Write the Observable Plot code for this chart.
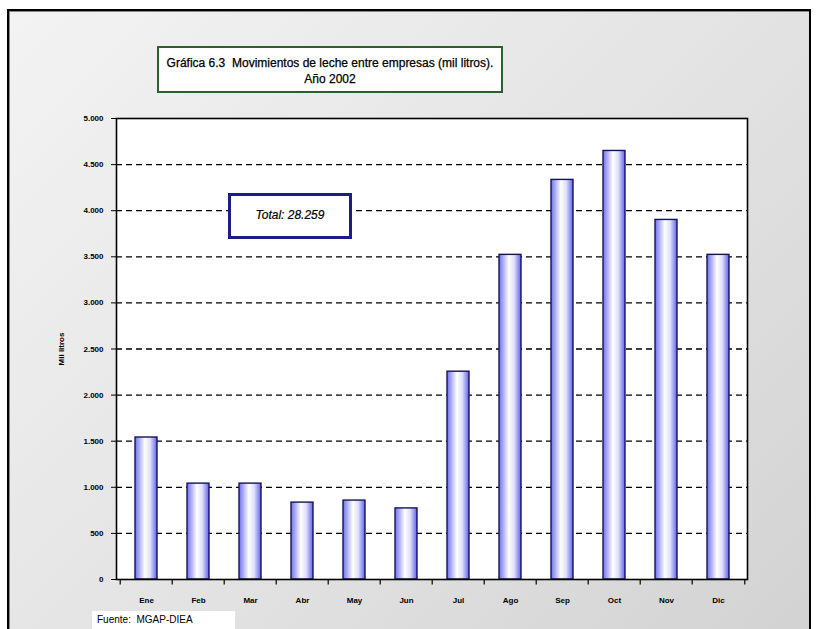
<!DOCTYPE html>
<html>
<head>
<meta charset="utf-8">
<script src="https://cdn.jsdelivr.net/npm/d3@7"></script>
<script src="https://cdn.jsdelivr.net/npm/@observablehq/plot@0.6"></script>
<style>
  html, body { margin: 0; padding: 0; background: #ffffff; }
  #page { position: relative; width: 816px; height: 629px; overflow: hidden; font-family: "Liberation Sans", Arial, sans-serif; }
  #panel { position: absolute; left: 7px; top: 9px; width: 800px; height: 640px;
    border-top: 2px solid #000; border-left: 2px solid #000; border-right: 2px solid #000;
    background: linear-gradient(135deg, #f3f3f3 0%, #e4e4e4 50%, #d2d2d2 100%);
    box-shadow: inset 1px 1px 0 #888; }
  #chart { position: absolute; left: 0; top: 0; }
  #title { position: absolute; left: 157px; top: 46px; width: 342px; height: 36px;
    border: 2px solid #2f5f2f; background: #fff; text-align: center; font-size: 12px; line-height: 16px;
    padding-top: 7px; color: #000; box-sizing: content-box; -webkit-text-stroke: 0.25px #000; }
  #total { position: absolute; left: 228px; top: 193px; width: 118px; height: 40px;
    border: 3px solid #1c1c8a; background: #fff; text-align: center; font-size: 12px; font-style: italic;
    line-height: 38px; color: #000; -webkit-text-stroke: 0.2px #000; }
  #source { position: absolute; left: 92px; top: 611px; width: 143px; height: 18px; background: #fff;
    font-size: 10px; line-height: 18px; padding-left: 5px; box-sizing: border-box; color: #000; }
</style>
</head>
<body>
<div id="page">
  <div id="panel"></div>
  <div id="chart"></div>
  <div id="title">Gráfica 6.3&nbsp;&nbsp;Movimientos de leche entre empresas (mil litros).<br>Año 2002</div>
  <div id="total">Total: 28.259</div>
  <div id="source">Fuente:&nbsp; MGAP-DIEA</div>
</div>
<script>
const months = ["Ene","Feb","Mar","Abr","May","Jun","Jul","Ago","Sep","Oct","Nov","Dic"];
const values = [1540,1040,1040,834,856,771,2254,3521,4334,4648,3900,3521];
const yTicks = [0,500,1000,1500,2000,2500,3000,3500,4000,4500,5000];
const gridLines = [500,1000,1500,2000,2500,3000,3500,4000,4500];
const yLabel = "Mil litros";

const data = months.map((m, i) => ({month: m, value: values[i]}));

const W = 816, H = 629;
const mL = 116, mR = 69, mT = 118, mB = 50;
const step = (W - mL - mR) / months.length;
const fmt = d => d3.format(",")(d).replace(/,/g, ".");

const svg = Plot.plot({
  width: W, height: H,
  marginLeft: mL, marginRight: mR, marginTop: mT, marginBottom: mB,
  style: {background: "transparent", fontFamily: "'Liberation Sans', Arial, sans-serif", color: "#000"},
  x: {domain: months, paddingInner: 0.58, paddingOuter: 0.29, axis: null},
  y: {domain: [0, 5000], axis: null},
  marks: [
    Plot.frame({fill: "white", stroke: "none"}),
    Plot.ruleY(gridLines, {stroke: "#000", strokeWidth: 1.3, strokeDasharray: "6,4"}),
    Plot.barY(data, {x: "month", y: "value", fill: "url(#barGrad)", stroke: "#14145a", strokeWidth: 1.4}),
    Plot.frame({stroke: "#000", strokeWidth: 1.6}),
    Plot.axisY({ticks: yTicks, tickFormat: fmt, tickSize: 5, tickPadding: 8, fontSize: 8, fontWeight: "bold",
      label: yLabel, labelAnchor: "center", labelArrow: "none", labelOffset: 58}),
    Plot.tickY(yTicks, {y: d => d, x: months[0], dx: -step / 2 + 3, stroke: "#000", strokeWidth: 1.2, marker: null, inset: 0}),
    Plot.axisX({tickSize: 0, tickPadding: 18, fontSize: 8, fontWeight: "bold"}),
    Plot.ruleX(months, {x: d => d, y1: 0, y2: -60, dx: -step / 2, stroke: "#000", strokeWidth: 1.2}),
    Plot.ruleX([months[months.length - 1]], {x: d => d, y1: 0, y2: -60, dx: step / 2, stroke: "#000", strokeWidth: 1.2})
  ]
});

d3.select(svg).insert("defs", ":first-child").html(
  '<linearGradient id="barGrad" x1="0" x2="1" y1="0" y2="0">' +
  '<stop offset="0" stop-color="#7070ee"/>' +
  '<stop offset="0.45" stop-color="#ffffff"/>' +
  '<stop offset="0.7" stop-color="#dcdcfa"/>' +
  '<stop offset="1" stop-color="#6060e6"/>' +
  '</linearGradient>'
);
d3.select(svg).selectAll("[aria-label='y-axis label'] text, [aria-label='y-axis label']").attr("font-weight", "bold").attr("font-size", 8);

document.getElementById("chart").appendChild(svg);
</script>
</body>
</html>
